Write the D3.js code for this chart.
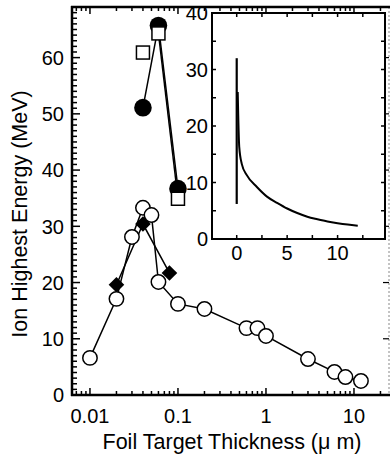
<!DOCTYPE html>
<html><head><meta charset="utf-8">
<script src="https://cdn.jsdelivr.net/npm/d3@7"></script>
<style>body{margin:0;background:#fff}svg{display:block}text{font-family:"Liberation Sans",Arial,sans-serif;fill:#000}</style>
</head><body><svg id="c" width="391" height="457"></svg>
<script>
// Main plot data
const openX = [0.01,0.02,0.03,0.04,0.05,0.06,0.1,0.2,0.6,0.8,1,3,6,8,12];
const openY = [6.6,17.1,28.1,33.3,32,20.1,16.2,15.3,11.9,11.9,10.5,6.4,4.1,3.2,2.5];
const diamondX = [0.02,0.04,0.08];
const diamondY = [19.6,30.4,21.7];
const filledX = [0.04,0.06,0.1];
const filledY = [51.1,65.7,36.7];
const squareX = [0.04,0.06,0.1];
const squareY = [60.9,64.3,34.9];
const squareLineFrom = 1; // squares connected from second point on
const xTicks = [0.01,0.1,1,10];
const yTicks = [0,10,20,30,40,50,60];
// Inset data
const insetSpikeX = [0,0];
const insetSpikeY = [6.2,32];
const insetCurveX = [0.1,0.25,0.5,1,2,3,4,5,6,7,8,9,10,11,12];
const insetCurveY = [26,16.3,13.3,11.3,9.2,7.5,6.4,5.4,4.6,3.95,3.5,3.1,2.8,2.55,2.35];
const insetXTicks = [0,5,10];
const insetYTicks = [0,10,20,30,40];

const svg = d3.select("#c");
const L=72,R=389,T=7,B=395;
const x = d3.scaleLog().domain([0.00625,25]).range([L,R]);
const y = d3.scaleLinear().domain([0,69]).range([B,T]);
const FS = 20, TFS = 21.5;

const logMinor = [];
for (let e=-3;e<=1;e++) for (let m=1;m<=9;m++){const v=m*Math.pow(10,e); if(v>=0.00625&&v<=25) logMinor.push(v);}

// right dotted axis
svg.append("line").attr("x1",R).attr("x2",R).attr("y1",T).attr("y2",B)
  .attr("stroke","#888").attr("stroke-width",1).attr("stroke-dasharray","2,2");
d3.range(10,70,10).forEach(v=>{
  svg.append("line").attr("x1",R-6).attr("x2",R).attr("y1",y(v)).attr("y2",y(v)).attr("stroke","#000").attr("stroke-width",1.2);
});

// bottom & top ticks
logMinor.forEach(v=>{
  const major = Math.abs(Math.log10(v)-Math.round(Math.log10(v)))<1e-9;
  const len = major?7:4;
  svg.append("line").attr("x1",x(v)).attr("x2",x(v)).attr("y1",B).attr("y2",B-len).attr("stroke","#000").attr("stroke-width",1.5);
  svg.append("line").attr("x1",x(v)).attr("x2",x(v)).attr("y1",T).attr("y2",T+len).attr("stroke","#000").attr("stroke-width",1.5);
});
// left ticks
d3.range(0,70,1).forEach(v=>{
  const major = v%10===0;
  svg.append("line").attr("x1",L).attr("x2",L+(major?8:5)).attr("y1",y(v)).attr("y2",y(v)).attr("stroke","#000").attr("stroke-width",1.5);
});
// axes lines
svg.append("line").attr("x1",L).attr("x2",L).attr("y1",T-1).attr("y2",B+1).attr("stroke","#000").attr("stroke-width",2.5);
svg.append("line").attr("x1",L-1).attr("x2",R+1).attr("y1",B).attr("y2",B).attr("stroke","#000").attr("stroke-width",2.5);
svg.append("line").attr("x1",L-1).attr("x2",R+1).attr("y1",T).attr("y2",T).attr("stroke","#000").attr("stroke-width",2.5);

// tick labels
yTicks.forEach(v=>{
  svg.append("text").attr("x",L-8).attr("y",y(v)).attr("dy","0.36em").attr("text-anchor","end").attr("font-size",FS).text(v);
});
xTicks.forEach(v=>{
  svg.append("text").attr("x",x(v)).attr("y",423).attr("text-anchor","middle").attr("font-size",FS).text(v);
});
svg.append("text").attr("x",232).attr("y",449).attr("text-anchor","middle").attr("font-size",TFS).text("Foil Target Thickness (\u03BC m)");
svg.append("text").attr("transform","translate(27,214) rotate(-90)").attr("text-anchor","middle").attr("font-size",TFS).text("Ion Highest Energy (MeV)");

// data lines
const line = d3.line().x(d=>x(d[0])).y(d=>y(d[1]));
const openD = openX.map((v,i)=>[v,openY[i]]);
const diaD = diamondX.map((v,i)=>[v,diamondY[i]]);
const filD = filledX.map((v,i)=>[v,filledY[i]]);
const sqD = squareX.map((v,i)=>[v,squareY[i]]);
[openD,diaD,filD,sqD.slice(squareLineFrom)].forEach(d=>{
  svg.append("path").attr("d",line(d)).attr("fill","none").attr("stroke","#000").attr("stroke-width",1.5);
});
diaD.forEach(d=>{
  const s=7.8;
  svg.append("path").attr("d",`M0,${-s}L${s},0L0,${s}L${-s},0Z`).attr("transform",`translate(${x(d[0])},${y(d[1])})`).attr("fill","#000");
});
openD.forEach(d=>{
  svg.append("circle").attr("cx",x(d[0])).attr("cy",y(d[1])).attr("r",7.2).attr("fill","#fff").attr("stroke","#000").attr("stroke-width",1.5);
});
filD.forEach(d=>{
  svg.append("circle").attr("cx",x(d[0])).attr("cy",y(d[1])).attr("r",8.8).attr("fill","#000");
});
sqD.forEach(d=>{
  svg.append("rect").attr("x",x(d[0])-6.5).attr("y",y(d[1])-6.5).attr("width",13).attr("height",13).attr("fill","#fff").attr("stroke","#000").attr("stroke-width",1.5);
});

// Inset
const iL=212,iR=385,iT=13,iB=239;
const ix = d3.scaleLinear().domain([-2.45,14.7]).range([iL,iR]);
const iy = d3.scaleLinear().domain([0,40]).range([iB,iT]);
svg.append("rect").attr("x",iL).attr("y",iT).attr("width",iR-iL).attr("height",iB-iT).attr("fill","#fff").attr("stroke","none");
d3.range(0,15,2.5).forEach(v=>{
  svg.append("line").attr("x1",ix(v)).attr("x2",ix(v)).attr("y1",iB).attr("y2",iB-4).attr("stroke","#000").attr("stroke-width",1.5);
  svg.append("line").attr("x1",ix(v)).attr("x2",ix(v)).attr("y1",iT).attr("y2",iT+4).attr("stroke","#000").attr("stroke-width",1.5);
});
d3.range(5,40,5).forEach(v=>{
  svg.append("line").attr("x1",iL).attr("x2",iL+4).attr("y1",iy(v)).attr("y2",iy(v)).attr("stroke","#000").attr("stroke-width",1.5);
  svg.append("line").attr("x1",iR).attr("x2",iR-4).attr("y1",iy(v)).attr("y2",iy(v)).attr("stroke","#000").attr("stroke-width",1.5);
});
svg.append("rect").attr("x",iL).attr("y",iT).attr("width",iR-iL).attr("height",iB-iT).attr("fill","none").attr("stroke","#000").attr("stroke-width",2);
insetYTicks.forEach(v=>{
  svg.append("text").attr("x",iL-4).attr("y",iy(v)).attr("dy","0.36em").attr("text-anchor","end").attr("font-size",FS).text(v);
});
insetXTicks.forEach(v=>{
  svg.append("text").attr("x",ix(v)).attr("y",iB+21).attr("text-anchor","middle").attr("font-size",FS).text(v);
});
const iline = d3.line().x(d=>ix(d[0])).y(d=>iy(d[1]));
svg.append("path").attr("d",iline(insetSpikeX.map((v,i)=>[v,insetSpikeY[i]]))).attr("fill","none").attr("stroke","#000").attr("stroke-width",2.2);
svg.append("path").attr("d",d3.line().curve(d3.curveMonotoneX).x(d=>ix(d[0])).y(d=>iy(d[1]))(insetCurveX.map((v,i)=>[v,insetCurveY[i]]))).attr("fill","none").attr("stroke","#000").attr("stroke-width",2);
</script></body></html>
